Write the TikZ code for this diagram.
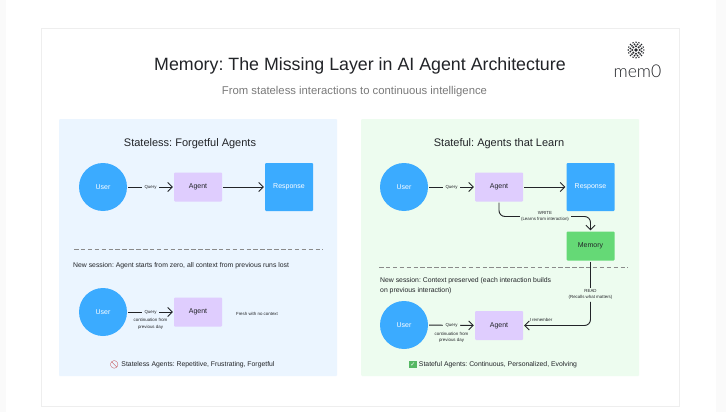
\documentclass[tikz,border=0pt]{standalone}
\usepackage{fontspec}
\setmainfont{Liberation Sans}
\newfontfamily\emojifont{Noto Emoji}
\newfontfamily\checkfont{DejaVu Sans}
\newfontfamily\logofont{Lato Light}
\usetikzlibrary{arrows.meta,positioning,calc}
\definecolor{inkdark}{HTML}{222428}
\definecolor{subgray}{HTML}{7A7A7A}
\definecolor{skypanel}{HTML}{EBF5FF}
\definecolor{mintpanel}{HTML}{EDFCEF}
\definecolor{bluenode}{HTML}{3BABFF}
\definecolor{agentpurple}{HTML}{DFCDFE}
\definecolor{memorygreen}{HTML}{65D976}
\definecolor{cardline}{HTML}{EEEEEE}
\definecolor{dashgray}{HTML}{8A8A8A}
\tikzset{
  usernode/.style={circle,fill=bluenode,text=white,font=\fontsize{7}{8}\selectfont,minimum size=48pt,inner sep=0pt},
  agentnode/.style={rectangle,rounded corners=1pt,fill=agentpurple,text=inkdark,font=\fontsize{7}{8}\selectfont,minimum width=48pt,minimum height=29pt,inner sep=0pt},
  responsenode/.style={rectangle,rounded corners=1pt,fill=bluenode,text=white,font=\fontsize{7}{8}\selectfont,minimum width=48pt,minimum height=48pt,inner sep=0pt},
  memorynode/.style={rectangle,rounded corners=1pt,fill=memorygreen,text=inkdark,font=\fontsize{7}{8}\selectfont,minimum width=48pt,minimum height=29pt,inner sep=0pt},
  conn/.style={-{Straight Barb[length=4.5pt,width=9pt]},line width=0.9pt,inkdark,shorten >=1pt,shorten <=1pt},
  plainconn/.style={line width=0.9pt,inkdark,shorten <=1pt},
  tinylabel/.style={text=inkdark,font=\fontsize{4.4}{6.4}\selectfont,align=center,inner sep=1pt},
  querylabel/.style={tinylabel,inner xsep=2.5pt},
  headlabel/.style={text=inkdark,font=\fontsize{11}{12}\selectfont,inner sep=0pt},
  bodylabel/.style={text=inkdark,font=\fontsize{6.85}{10}\selectfont,inner sep=0pt,anchor=west,align=left},
  sessionline/.style={dashgray,line width=0.8pt,dash pattern=on 4.5pt off 2.4pt}
}
\begin{document}
\frenchspacing
\begin{tikzpicture}[x=1pt,y=-1pt]
  \useasboundingbox (0,0) rectangle (726,412);
  % page and card
  \fill[white] (0,0) rectangle (726,412);
  \fill[black!2] (0,0) rectangle (6,412);
  \fill[black!2] (716,0) rectangle (726,412);
  \draw[cardline,fill=white] (41.5,28.5) rectangle (679.5,406);
  \node[text=inkdark,font=\fontsize{17.8}{20}\selectfont,inner sep=0pt] (title) at (360,65.5) {Memory: The Missing Layer in AI Agent Architecture};
  \node[text=subgray,font=\fontsize{11.3}{13}\selectfont,inner sep=0pt] (subtitle) at (354.5,91.5) {From stateless interactions to continuous intelligence};
  % logo
  \fill[inkdark] (636,50) circle (1.9pt);
  \foreach \a in {0,45,...,315} \fill[inkdark] (636,50) ++(\a:3.7) circle (1.1pt);
  \foreach \a in {15,45,...,345} \fill[inkdark] (636,50) ++(\a:5.8) circle (1pt);
  \foreach \a in {0,22.5,...,337.5} \fill[inkdark] (636,50) ++(\a:7.8) circle (0.8pt);
  \node[text=inkdark,font=\logofont\fontsize{17.6}{18}\selectfont,inner sep=0pt] (logotext) at (637.5,71) {mem0};
  % panels
  \fill[skypanel,rounded corners=1pt] (59,119) rectangle (337,376);
  \fill[mintpanel,rounded corners=1pt] (361,119) rectangle (639,376);
  % stateless panel
  \node[headlabel] (leftTitle) at (190,143.5) {Stateless: Forgetful Agents};
  \node[usernode] (userA) at (103,187) {User};
  \node[agentnode] (agentA) at (198,187) {Agent};
  \node[responsenode] (responseA) at (289,187) {Response};
  \draw[conn] (userA) -- node[querylabel,fill=skypanel] (queryA) {Query} (agentA);
  \draw[conn] (agentA) -- (responseA);
  \draw[sessionline] (74,249.5) -- (323,249.5);
  \node[bodylabel] (sessionA) at (73,265.5) {New session: Agent starts from zero, all context from previous runs lost};
  \node[usernode] (userB) at (103,312) {User};
  \node[agentnode] (agentB) at (198,312) {Agent};
  \draw[conn] (userB) -- node[querylabel,fill=skypanel] (queryB) {Query} (agentB);
  \node[tinylabel,below=2pt of queryB] (contB) {continuation from\\previous day};
  \node[tinylabel] (freshB) at (257,313.5) {Fresh with no context};
  \node[text=inkdark,font=\fontsize{6.85}{9}\selectfont,inner sep=0pt] (captionA) at (198,364.5) {Stateless Agents: Repetitive, Frustrating, Forgetful};
  \node[text=red!70!black,font=\emojifont\fontsize{7.5}{9}\selectfont,inner sep=0pt,left=2pt of captionA] (banA) {🚫};
  % stateful panel
  \node[headlabel] (rightTitle) at (499,143.5) {Stateful: Agents that Learn};
  \node[usernode] (userC) at (404,187) {User};
  \node[agentnode] (agentC) at (499,187) {Agent};
  \node[responsenode] (responseC) at (590.5,187) {Response};
  \node[memorynode] (memoryC) at (590.5,246) {Memory};
  \draw[conn] (userC) -- node[querylabel,fill=mintpanel] (queryC) {Query} (agentC);
  \draw[conn] (agentC) -- (responseC);
  \node[tinylabel] (writeC) at (545,216.5) {WRITE\\(Learns from interaction)};
  \draw[plainconn,rounded corners=6pt] (agentC.south) |- (writeC.west);
  \draw[conn,rounded corners=6pt] (writeC.east) -| (memoryC.north);
  \draw[sessionline] (379,267) -- (628,267);
  \node[bodylabel] (sessionC) at (380,285.5) {New session: Context preserved (each interaction builds\\on previous interaction)};
  \node[tinylabel] (readC) at (590.5,294.5) {READ\\(Recalls what matters)};
  \node[usernode] (userD) at (404,325) {User};
  \node[agentnode] (agentD) at (499,325.5) {Agent};
  \draw[plainconn] (memoryC.south) -- (readC.north);
  \draw[conn,rounded corners=6pt] (readC.south) |- (agentD.east);
  \node[tinylabel] (rememberD) at (541,320) {I remember};
  \draw[conn] (userD) -- node[querylabel,fill=mintpanel] (queryD) {Query} (agentD);
  \node[tinylabel,below=2pt of queryD] (contD) {continuation from\\previous day};
  \node[text=inkdark,font=\fontsize{6.85}{9}\selectfont,inner sep=0pt] (captionC) at (498,364.5) {Stateful Agents: Continuous, Personalized, Evolving};
  \node[fill=memorygreen!85!black,text=white,font=\checkfont\fontsize{6}{7}\selectfont,inner sep=0pt,minimum size=7.5pt,left=2pt of captionC] (checkC) {✓};
\end{tikzpicture}
\end{document}
